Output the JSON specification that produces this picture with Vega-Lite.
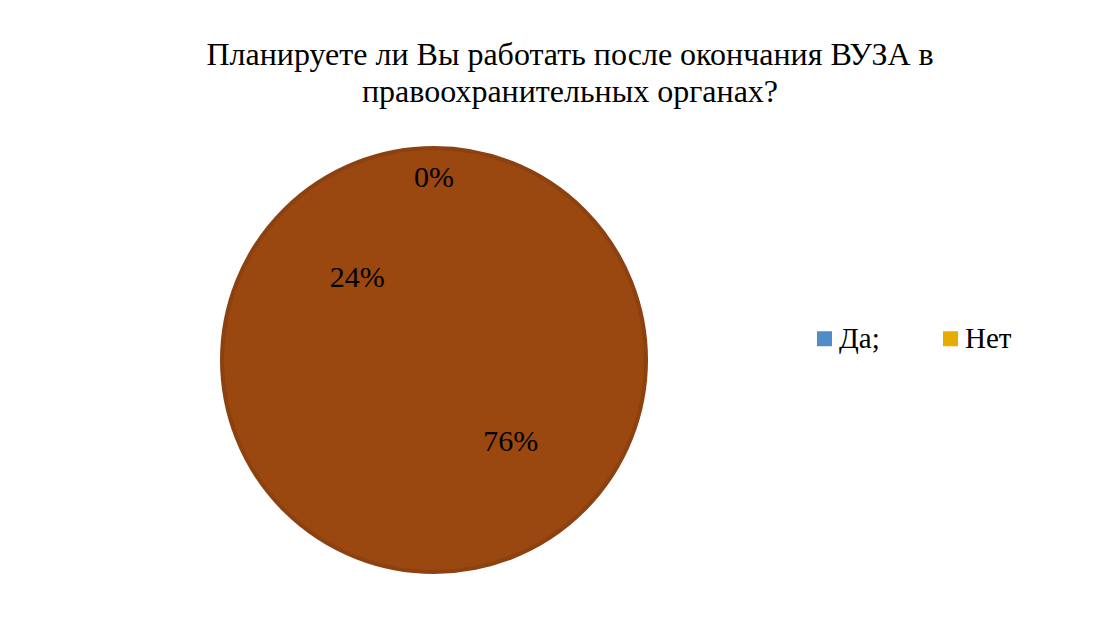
{
  "$schema": "https://vega.github.io/schema/vega-lite/v6.json",
  "width": 868,
  "height": 500,
  "autosize": {"type": "none"},
  "padding": {"top": 110, "left": 0, "right": 250, "bottom": 16},
  "background": "white",
  "title": {
    "text": ["Планируете ли Вы работать после окончания ВУЗА в", "правоохранительных органах?"],
    "font": "Liberation Serif",
    "fontSize": 32,
    "fontWeight": "normal",
    "color": "#000000",
    "lineHeight": 37,
    "anchor": "middle",
    "dx": 136,
    "offset": 1
  },
  "data": {
    "values": [
      {"answer": "", "share": 0.0, "n": 1},
      {"answer": "Нет", "share": 0.76, "n": 2},
      {"answer": "Да;", "share": 0.24, "n": 3}
    ]
  },
  "layer": [
    {
      "transform": [{"filter": {"field": "answer", "oneOf": ["Да;", "Нет"]}}],
      "mark": {"type": "arc", "radius": 211},
      "encoding": {
        "theta": {"field": "share", "type": "quantitative", "stack": true},
        "order": {"field": "n", "type": "quantitative"},
        "color": {
          "field": "answer",
          "type": "nominal",
          "scale": {"domain": ["Да;", "Нет"], "range": ["#4F8CC9", "#E6AC00"]},
          "legend": {
            "title": null,
            "orient": "none",
            "legendX": 810,
            "legendY": 214,
            "direction": "horizontal",
            "symbolType": "square",
            "symbolSize": 225,
            "symbolStrokeWidth": 0,
            "labelFont": "Liberation Serif",
            "labelFontSize": 29,
            "labelColor": "#000000",
            "labelOffset": 0,
            "columnPadding": 56
          }
        }
      }
    },
    {
      "transform": [{"aggregate": [{"op": "sum", "field": "share", "as": "total"}]}],
      "mark": {"type": "arc", "radius": 212, "fill": "#9A4710", "stroke": "#8B4210", "strokeWidth": 4},
      "encoding": {}
    },
    {
      "transform": [{"filter": "datum.share === 0"}],
      "mark": {"type": "text", "font": "Liberation Serif", "fontSize": 30, "color": "#000000", "radius": 182},
      "encoding": {
        "theta": {"field": "share", "type": "quantitative", "stack": true},
        "text": {"field": "share", "type": "quantitative", "format": ".0%"}
      }
    },
    {
      "transform": [{"filter": "datum.share > 0"}],
      "mark": {"type": "text", "font": "Liberation Serif", "fontSize": 30, "color": "#000000", "radius": 112},
      "encoding": {
        "theta": {"field": "share", "type": "quantitative", "stack": true},
        "order": {"field": "n", "type": "quantitative"},
        "text": {"field": "share", "type": "quantitative", "format": ".0%"}
      }
    }
  ],
  "config": {"view": {"stroke": null}}
}
